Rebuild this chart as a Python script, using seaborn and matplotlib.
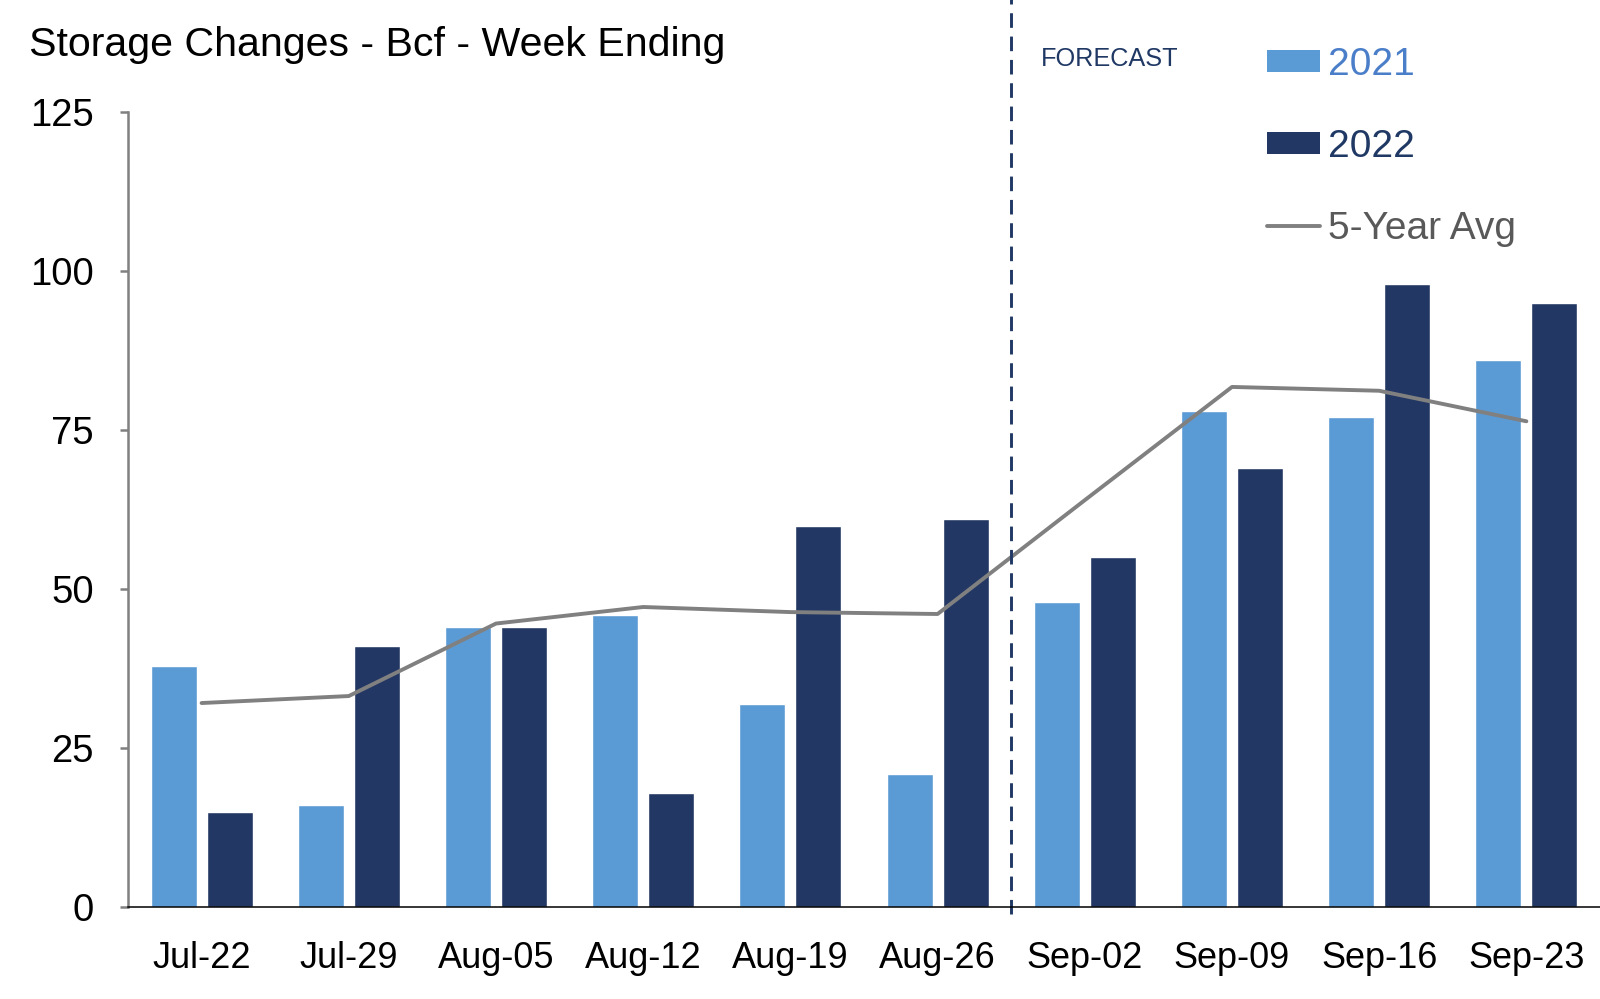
import numpy as np
import pandas as pd
import seaborn as sns
import matplotlib.pyplot as plt
from matplotlib.patches import Patch
from matplotlib.lines import Line2D

weeks = ['Jul-22', 'Jul-29', 'Aug-05', 'Aug-12', 'Aug-19', 'Aug-26',
         'Sep-02', 'Sep-09', 'Sep-16', 'Sep-23']
storage_2021 = [38, 16, 44, 46, 32, 21, 48, 78, 77, 86]
storage_2022 = [15, 41, 44, 18, 60, 61, 55, 69, 98, 95]
five_year_avg = [32.1, 33.2, 44.6, 47.2, 46.4, 46.1, 64.0, 81.8, 81.2, 76.4]
y_ticks = [0, 25, 50, 75, 100, 125]

light_blue = '#5B9BD5'
navy = '#223763'
grey = '#808080'

sns.set_theme(style='white')
plt.rcParams['font.family'] = ['Liberation Sans', 'DejaVu Sans']

df = pd.DataFrame({
    'week': weeks * 2,
    'value': storage_2021 + storage_2022,
    'year': ['2021'] * len(weeks) + ['2022'] * len(weeks),
})

fig = plt.figure(figsize=(16, 9.99), dpi=100)
ax = fig.add_axes([0.08, 0.0919, 0.92, 0.7958])

sns.barplot(data=df, x='week', y='value', hue='year', order=weeks,
            hue_order=['2021', '2022'], palette=[light_blue, navy],
            width=0.76, gap=0.18, saturation=1, legend=False, ax=ax)
sns.lineplot(x=np.arange(len(weeks)), y=five_year_avg, color=grey,
             linewidth=2.8, ax=ax)

ax.set_xlim(-0.5, len(weeks) - 0.5)
ax.set_ylim(0, 125)
ax.set_yticks(y_ticks)
ax.set_xlabel('')
ax.set_ylabel('')

for side in ['top', 'right']:
    ax.spines[side].set_visible(False)
ax.spines['left'].set_color(grey)
ax.spines['left'].set_linewidth(1.8)
ax.spines['bottom'].set_color('black')
ax.spines['bottom'].set_linewidth(1.1)

ax.tick_params(axis='y', left=True, length=6, width=1.8, color=grey,
               pad=18.5, labelsize=27.5, labelcolor='black')
ax.tick_params(axis='x', bottom=False, pad=18, labelsize=26,
               labelcolor='black')

# forecast divider
ax.axvline(5.5, ymin=-0.008, ymax=1.15, clip_on=False, color='#1F3864',
           linewidth=2.1, linestyle=(0, (5, 3)))
fig.text(1041 / 1600, 1 - 59 / 999, 'FORECAST', color='#1F3864',
         fontsize=18.2, va='center', ha='left')

fig.text(29 / 1600, 1 - 45 / 999, 'Storage Changes - Bcf - Week Ending',
         fontsize=29.6, color='black', va='center', ha='left')

handles = [Patch(facecolor=light_blue, edgecolor='none'),
           Patch(facecolor=navy, edgecolor='none'),
           Line2D([0], [0], color=grey, linewidth=2.8)]
leg = ax.legend(handles, ['2021', '2022', '5-Year Avg'], loc='upper left',
                bbox_to_anchor=(1267 / 1600, 1 - 47 / 999),
                bbox_transform=fig.transFigure, frameon=False, fontsize=28,
                borderpad=0, borderaxespad=0, handlelength=1.36,
                handleheight=0.5, handletextpad=0.2, labelspacing=1.18)
for txt, col in zip(leg.get_texts(), ['#4A7EC8', '#1F3864', '#595959']):
    txt.set_color(col)

fig.savefig('out.png', dpi=100)
